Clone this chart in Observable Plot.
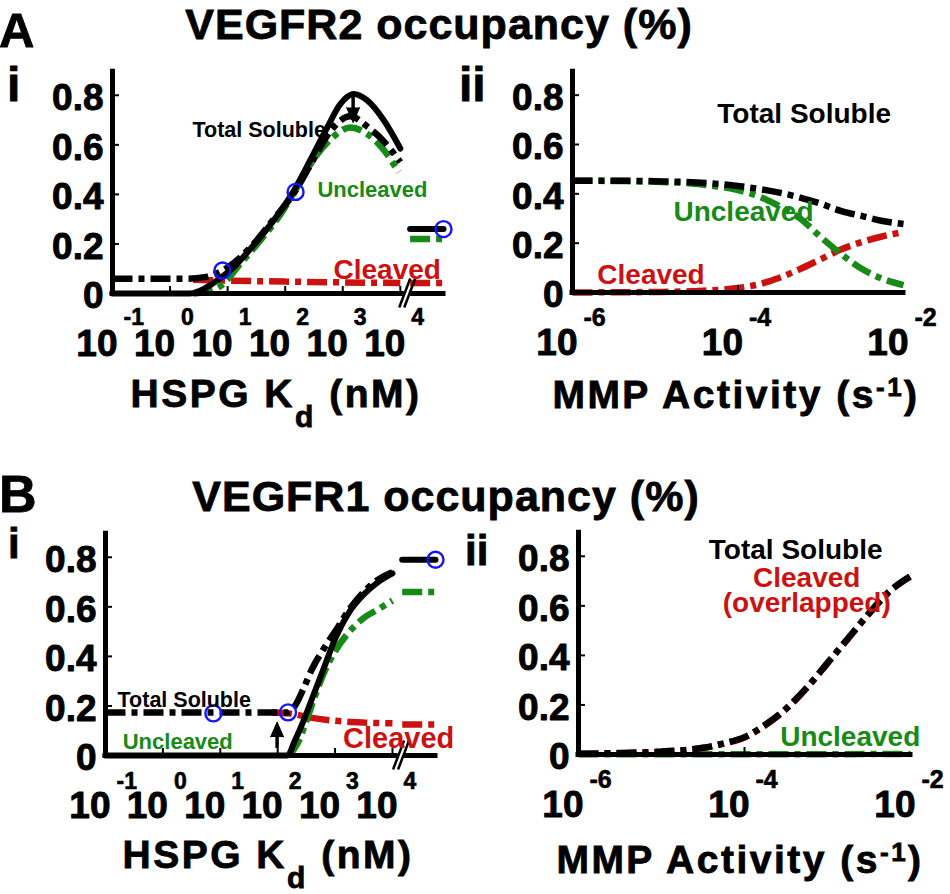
<!DOCTYPE html>
<html><head><meta charset="utf-8">
<script src="https://cdn.jsdelivr.net/npm/d3@7"></script>
<script src="https://cdn.jsdelivr.net/npm/@observablehq/plot@0.6"></script>
<style>
body{margin:0;background:#fff;}
#fig{position:relative;width:950px;height:894px;overflow:hidden;font-family:"Liberation Sans",Arial,Helvetica,sans-serif;font-weight:bold;color:#000;background:#fff;}
.lbl{position:absolute;white-space:nowrap;line-height:1;-webkit-text-stroke:0.8px #000;}
.sub{font-size:30px;position:relative;top:20px;}
.sup{font-size:26px;position:relative;top:-12px;}
</style></head><body><div id="fig"></div><script>
// ---------------- data (x = log10 of the x quantity, y = occupancy) ----------------
const kdTickExps = [-1, 0, 1, 2, 3, 4];
const mmpTickExps = [-6, -4, -2];
const yTickValues = [0, 0.2, 0.4, 0.6, 0.8];

// A-i  VEGFR2 occupancy vs HSPG Kd (nM)
const a1Solid = [[-1,0],[0.35,0],[0.6,0.02],[0.8,0.05],[1.1,0.105],[1.45,0.195],[1.8,0.295],[2.15,0.415],[2.44,0.54],[2.73,0.67],[2.96,0.765],[3.19,0.805],[3.42,0.78],[3.71,0.7],[4.0,0.585]];
const a1Total = [[-1,0.06],[-0.5,0.06],[0,0.06],[0.3,0.06],[0.6,0.066],[1.0,0.105],[1.45,0.2],[1.8,0.3],[2.15,0.405],[2.44,0.52],[2.8,0.66],[3.13,0.715],[3.42,0.675],[3.71,0.615],[4.0,0.53]];
const a1Uncleaved = [[0.4,0],[0.6,0.006],[0.875,0.03],[1.22,0.12],[1.57,0.215],[1.92,0.32],[2.21,0.43],[2.49,0.54],[2.78,0.62],[3.13,0.67],[3.42,0.645],[3.71,0.58],[3.97,0.49]];
const a1Cleaved = [[0.4,0.055],[1,0.052],[2,0.048],[3,0.045],[4,0.042]];
const a1NoHspg = [0.26, 0.26, 0.22, 0.042];          // solid, total, uncleaved, cleaved (beyond axis break)
const a1Marked = [[0.91,0.093],[2.18,0.41],[4.75,0.26]];

// A-ii VEGFR2 occupancy vs MMP activity (s^-1)
const a2Total = [[-6,0.453],[-5.5,0.453],[-5,0.451],[-4.5,0.446],[-4,0.432],[-3.75,0.42],[-3.5,0.405],[-3.25,0.385],[-3,0.36],[-2.75,0.33],[-2.5,0.31],[-2.25,0.29],[-2,0.278]];
const a2Uncleaved = [[-6,0.453],[-5.5,0.452],[-5,0.449],[-4.5,0.44],[-4,0.415],[-3.75,0.39],[-3.5,0.35],[-3.25,0.3],[-3,0.225],[-2.75,0.155],[-2.5,0.095],[-2.25,0.055],[-2,0.03]];
const a2Cleaved = [[-6,0],[-5.5,0.001],[-5,0.002],[-4.5,0.006],[-4,0.018],[-3.75,0.033],[-3.5,0.06],[-3.25,0.095],[-3,0.135],[-2.75,0.175],[-2.5,0.205],[-2.25,0.228],[-2,0.245]];

// B-i  VEGFR1 occupancy vs HSPG Kd (nM)
const b1Solid = [[-1,0],[2.17,0],[2.3,0.06],[2.45,0.14],[2.6,0.23],[2.8,0.35],[3.0,0.47],[3.25,0.58],[3.5,0.65],[3.75,0.7],[4.0,0.735]];
const b1Total = [[-1,0.174],[0,0.174],[1,0.174],[2.17,0.174],[2.3,0.2],[2.45,0.27],[2.6,0.35],[2.8,0.43],[3.0,0.5],[3.25,0.59],[3.5,0.66],[3.75,0.71],[4.0,0.74]];
const b1Uncleaved = [[2.2,0],[2.35,0.05],[2.5,0.14],[2.65,0.24],[2.8,0.33],[3.0,0.42],[3.25,0.5],[3.5,0.555],[3.75,0.59],[4.0,0.625]];
const b1Cleaved = [[1.9,0.174],[2.2,0.17],[2.6,0.152],[3.0,0.14],[3.5,0.133],[4.0,0.13]];
const b1NoHspg = [0.79, 0.79, 0.66, 0.125];
const b1Marked = [[0.88,0.17],[2.18,0.174],[4.75,0.79]];

// B-ii VEGFR1 occupancy vs MMP activity (s^-1)
const b2Total = [[-6,0.003],[-5.5,0.006],[-5,0.012],[-4.5,0.027],[-4.25,0.045],[-4,0.07],[-3.75,0.12],[-3.5,0.185],[-3.25,0.27],[-3,0.37],[-2.75,0.47],[-2.5,0.57],[-2.25,0.66],[-2,0.72]];
const b2Cleaved = [[-6,0.002],[-5.5,0.005],[-5,0.011],[-4.5,0.026],[-4.25,0.044],[-4,0.069],[-3.75,0.118],[-3.5,0.183],[-3.25,0.268],[-3,0.368],[-2.75,0.468],[-2.5,0.568],[-2.25,0.658],[-2,0.718]];
const b2Uncleaved = [[-6,0.001],[-4,0.001],[-2,0.002]];

const breakExps = [4.17, 4.75];   // "no HSPG" level drawn past the axis break

// ---------------- styles ----------------
const FONT = '"Liberation Sans", Arial, Helvetica, sans-serif';
const BLACK = "#000", GREEN = "#178a17", RED = "#cc1111", BLUE = "#1414ff";
const DASHDOT = "20,6,6,6";
const fig = document.getElementById("fig");

function panel(p) {
  const X = e => 10 ** e;
  const [xlo, xhi] = p.xExp;
  const ppd = (p.width - p.ml - p.mr) / (xhi - xlo);
  const ppu = (p.height - p.mt - p.mb) / 0.9;
  const shift = (e, dpx) => 10 ** (e + dpx / ppd);
  const marks = [];
  for (const s of p.series) {
    const o = {x: d => X(d[0]), y: d => d[1], stroke: s.color, strokeWidth: s.dash ? 6.5 : 6, curve: "monotone-x"};
    if (s.dash) { o.strokeDasharray = s.dash; o.strokeLinecap = "butt"; o.strokeLinejoin = "miter"; }
    marks.push(Plot.line(s.data, o));
  }
  // axis lines
  marks.push(Plot.ruleY([0], {x1: () => X(xlo), x2: () => X(xhi), stroke: BLACK, strokeWidth: 5, strokeLinecap: "square"}));
  marks.push(Plot.ruleX([xlo], {x: X, y1: 0, y2: 0.895, stroke: BLACK, strokeWidth: 5, strokeLinecap: "square"}));
  // inward ticks
  marks.push(Plot.ruleY(yTickValues.filter(v => v > 0), {y: d => d, x1: () => X(xlo), x2: () => shift(xlo, 7), stroke: BLACK, strokeWidth: 2}));
  marks.push(Plot.ruleX(p.xTicks.filter(e => e > xlo && e < xhi), {x: X, y1: 0, y2: 7 / ppu, stroke: BLACK, strokeWidth: 2}));
  // axis break
  if (p.breakAt != null) {
    const b = p.breakAt;
    marks.push(Plot.link([0], {x1: () => shift(b, -3.5), x2: () => shift(b, 3), y1: () => 0, y2: () => 0, stroke: "#fff", strokeWidth: 9}));
    marks.push(Plot.link([0, 5], {x1: d => shift(b, d - 8), x2: d => shift(b, d + 3), y1: () => -14 / ppu, y2: () => 15 / ppu, stroke: BLACK, strokeWidth: 2.5}));
  }
  // tick labels (slightly thickened to match the heavy original lettering)
  const heavy = {fontWeight: "bold", fill: BLACK, stroke: BLACK, strokeWidth: 0.9};
  marks.push(Plot.text(yTickValues, {x: () => X(xlo), y: d => d, text: d => d === 0 ? "0" : d.toFixed(1), textAnchor: "end", dx: -9, dy: 3, fontSize: 37, ...heavy}));
  marks.push(Plot.text(p.xTicks, {x: X, y: () => 0, text: () => "10", textAnchor: "end", lineAnchor: "bottom", dx: 5, dy: 62, fontSize: 37, ...heavy}));
  marks.push(Plot.text(p.xTicks, {x: X, y: () => 0, text: e => String(e), textAnchor: "start", lineAnchor: "bottom", dx: 11, dy: p.expDy, fontSize: p.expSize, ...heavy, strokeWidth: 0.6}));
  // markers and arrow (shaft + filled head)
  if (p.marked) marks.push(Plot.dot(p.marked, {x: d => X(d[0]), y: d => d[1], r: 8, stroke: BLUE, strokeWidth: 2.4, fill: "none"}));
  if (p.arrow) {
    const [, yFrom, yTip] = p.arrow;
    const down = yTip < yFrom;
    marks.push(Plot.link([p.arrow], {x1: d => X(d[0]), x2: d => X(d[0]), y1: d => d[1], y2: d => d[2] + (down ? 10 : -10) / ppu, stroke: BLACK, strokeWidth: 3.5}));
    marks.push(Plot.vector([p.arrow], {x: d => X(d[0]), y: d => d[2], length: 15, r: 6.5, rotate: down ? 180 : 0, shape: "spike", anchor: "end", fill: BLACK, stroke: BLACK, strokeWidth: 1}));
  }
  // in-plot labels
  for (const l of p.labels) {
    marks.push(Plot.text([l], {x: d => X(d.x), y: d => d.y, text: d => d.t, fill: l.c, fontSize: l.s, fontWeight: "bold", textAnchor: l.a || "start", lineAnchor: "bottom"}));
  }
  const svg = Plot.plot({
    width: p.width, height: p.height,
    marginLeft: p.ml, marginRight: p.mr, marginTop: p.mt, marginBottom: p.mb,
    x: {type: "log", domain: [X(xlo), X(xhi)], axis: null},
    y: {domain: [0, 0.9], axis: null},
    style: {fontFamily: FONT, background: "transparent", overflow: "visible", maxWidth: "none"},
    marks
  });
  svg.style.position = "absolute";
  svg.style.left = p.left + "px";
  svg.style.top = p.top + "px";
  fig.appendChild(svg);
}

const seg = v => breakExps.map(e => [e, v]);

panel({
  left: 0, top: 50, width: 475, height: 345, ml: 112, mr: 32, mt: 20, mb: 102,
  xExp: [-1, 4.75], xTicks: kdTickExps, expSize: 23, expDy: 31, breakAt: 4.12,
  series: [
    {data: a1Cleaved, color: RED, dash: DASHDOT},
    {data: a1Uncleaved, color: GREEN, dash: DASHDOT},
    {data: a1Total, color: BLACK, dash: DASHDOT},
    {data: a1Solid, color: BLACK},
    {data: seg(a1NoHspg[3]), color: RED, dash: DASHDOT},
    {data: seg(a1NoHspg[2]), color: GREEN, dash: DASHDOT},
    {data: seg(a1NoHspg[0]), color: BLACK}
  ],
  marked: a1Marked, arrow: [3.18, 0.815, 0.69],
  labels: [
    {t: "Total Soluble", x: 0.39, y: 0.63, c: BLACK, s: 21.5},
    {t: "Uncleaved", x: 2.56, y: 0.39, c: GREEN, s: 22},
    {t: "Cleaved", x: 2.84, y: 0.06, c: RED, s: 28}
  ]
});

panel({
  left: 475, top: 50, width: 475, height: 345, ml: 97, mr: 47, mt: 20, mb: 103,
  xExp: [-6, -2], xTicks: mmpTickExps, expSize: 25, expDy: 33,
  series: [
    {data: a2Cleaved, color: RED, dash: DASHDOT},
    {data: a2Uncleaved, color: GREEN, dash: DASHDOT},
    {data: a2Total, color: BLACK, dash: DASHDOT}
  ],
  labels: [
    {t: "Total Soluble", x: -4.25, y: 0.687, c: BLACK, s: 28},
    {t: "Uncleaved", x: -4.78, y: 0.29, c: GREEN, s: 28},
    {t: "Cleaved", x: -5.7, y: 0.036, c: RED, s: 28}
  ]
});

panel({
  left: 0, top: 510, width: 475, height: 345, ml: 105, mr: 40, mt: 22, mb: 100,
  xExp: [-1, 4.75], xTicks: kdTickExps, expSize: 23, expDy: 33, breakAt: 4.15,
  series: [
    {data: b1Cleaved, color: RED, dash: DASHDOT},
    {data: b1Uncleaved, color: GREEN, dash: DASHDOT},
    {data: b1Total, color: BLACK, dash: DASHDOT},
    {data: b1Solid, color: BLACK},
    {data: seg(b1NoHspg[3]), color: RED, dash: DASHDOT},
    {data: seg(b1NoHspg[2]), color: GREEN, dash: DASHDOT},
    {data: seg(b1NoHspg[0]), color: BLACK}
  ],
  marked: b1Marked, arrow: [1.99, 0.03, 0.135],
  labels: [
    {t: "Total Soluble", x: -0.79, y: 0.194, c: BLACK, s: 21.5},
    {t: "Uncleaved", x: -0.70, y: 0.028, c: GREEN, s: 22},
    {t: "Cleaved", x: 3.14, y: 0.032, c: RED, s: 29}
  ]
});

panel({
  left: 475, top: 510, width: 475, height: 345, ml: 103, mr: 40, mt: 21, mb: 101,
  xExp: [-6, -2], xTicks: mmpTickExps, expSize: 25, expDy: 33,
  series: [
    {data: b2Uncleaved, color: GREEN, dash: DASHDOT},
    {data: b2Cleaved, color: RED, dash: DASHDOT},
    {data: b2Total, color: BLACK, dash: DASHDOT}
  ],
  labels: [
    {t: "Total Soluble", x: -4.43, y: 0.79, c: BLACK, s: 28},
    {t: "Cleaved", x: -3.25, y: 0.675, c: RED, s: 28, a: "middle"},
    {t: "(overlapped)", x: -3.25, y: 0.575, c: RED, s: 28, a: "middle"},
    {t: "Uncleaved", x: -3.57, y: 0.036, c: GREEN, s: 28}
  ]
});

// ---------------- HTML titles / axis labels ----------------
function label(html, o) {
  const d = document.createElement("div");
  d.className = "lbl";
  d.innerHTML = html;
  d.style.fontSize = o.size + "px";
  d.style.top = (o.base - 0.8465 * o.size) + "px";
  if (o.ls) d.style.letterSpacing = o.ls + "px";
  if (o.cx != null) { d.style.left = o.cx + "px"; d.style.transform = "translateX(-50%)"; }
  else d.style.left = o.left + "px";
  fig.appendChild(d);
}
label("A", {left: -1, base: 47, size: 49});
label("VEGFR2 occupancy (%)", {cx: 439, base: 39, size: 43, ls: 1});
label("i", {left: 7, base: 102, size: 48});
label("ii", {left: 459, base: 102, size: 48});
label('HSPG K<span class="sub">d</span> (nM)', {cx: 276, base: 407, size: 39, ls: 2.5});
label('MMP Activity (s<span class="sup">-1</span>)', {cx: 736, base: 408, size: 39, ls: 2.5});
label("B", {left: -1, base: 512, size: 52});
label("VEGFR1 occupancy (%)", {cx: 446, base: 511, size: 43, ls: 1});
label("i", {left: 8, base: 559, size: 42});
label("ii", {left: 465, base: 566, size: 42});
label('HSPG K<span class="sub">d</span> (nM)', {cx: 268, base: 868, size: 39, ls: 2.5});
label('MMP Activity (s<span class="sup">-1</span>)', {cx: 740, base: 873, size: 39, ls: 2.5});
</script></body></html>
